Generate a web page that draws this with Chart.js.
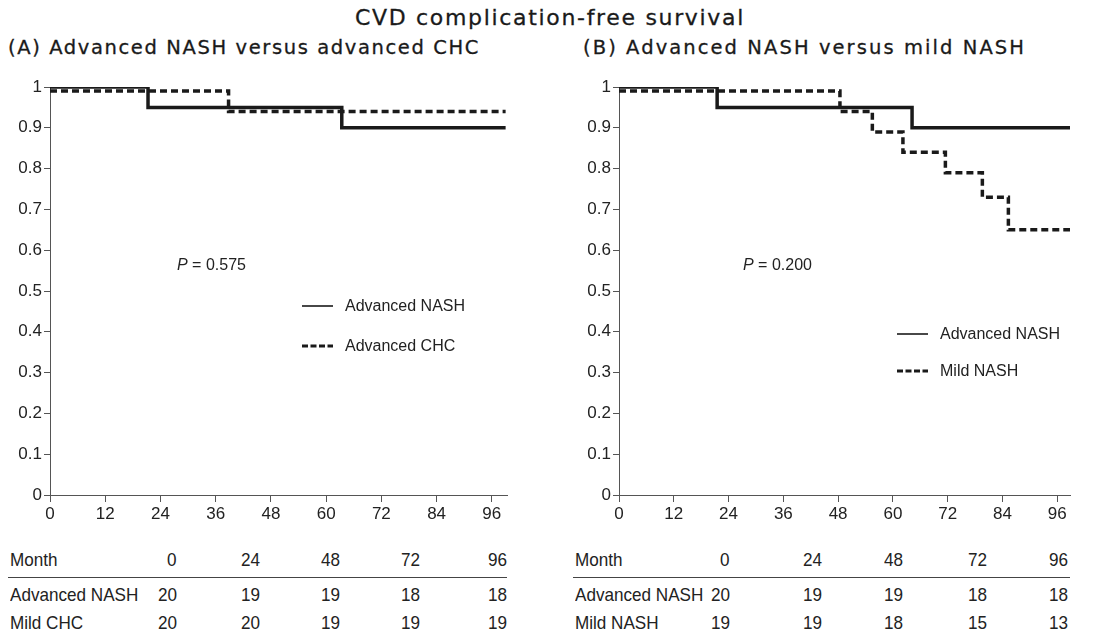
<!DOCTYPE html>
<html>
<head>
<meta charset="utf-8">
<script src="https://cdn.jsdelivr.net/npm/chart.js@4"></script>
<style>
  body { margin: 0; background: #fff; }
  #page { position: relative; width: 1098px; height: 636px; font-family: "Liberation Sans", Arial, sans-serif; color: #222; }
  .abs { position: absolute; white-space: nowrap; }
  .head { font-family: "DejaVu Sans", sans-serif; line-height: 24px; color: #1a1a1a; -webkit-text-stroke: 0.3px #1a1a1a; }
  .pval { font-size: 16px; }
  .cell { font-size: 19px; line-height: 20px; transform: scaleX(0.9); }
  .rule { height: 1px; background: #444; }
</style>
</head>
<body>
<div id="page">
  <div class="abs head" id="ttl">CVD complication-free survival</div>
  <div class="abs head" id="subA">(A) Advanced NASH versus advanced CHC</div>
  <div class="abs head" id="subB">(B) Advanced NASH versus mild NASH</div>
  <div class="abs" style="left:0;top:60px;width:512px;height:471px"><canvas id="chartA"></canvas></div>
  <div class="abs" style="left:569px;top:60px;width:506px;height:471px"><canvas id="chartB"></canvas></div>
  <div class="abs pval" style="left:177px;top:256px"><i>P</i> = 0.575</div>
  <div class="abs pval" style="left:743px;top:256px"><i>P</i> = 0.200</div>
</div>
<script>
// x ticks (months) and y ticks (survival)
var monthTicks = [0, 12, 24, 36, 48, 60, 72, 84, 96];
var survTicks = [0, 0.1, 0.2, 0.3, 0.4, 0.5, 0.6, 0.7, 0.8, 0.9, 1];

// (A) Advanced NASH vs advanced CHC
var nashA_x = [0, 21.3, 63.4, 99];
var nashA_y = [1, 0.95, 0.9, 0.9];
var chcA_x = [0, 38.8, 99];
var chcA_y = [0.99, 0.94, 0.94];

// (B) Advanced NASH vs mild NASH
var nashB_x = [0, 21.5, 64.2, 99];
var nashB_y = [1, 0.95, 0.9, 0.9];
var mildB_x = [0, 48.4, 55.5, 62.2, 71.5, 79.6, 85.3, 98.8];
var mildB_y = [0.99, 0.94, 0.89, 0.84, 0.79, 0.73, 0.65, 0.65];

// numbers at risk
var tableMonths = [0, 24, 48, 72, 96];
var riskNashA = [20, 19, 19, 18, 18];
var riskChcA = [20, 20, 19, 19, 19];
var riskNashB = [20, 19, 19, 18, 18];
var riskMildB = [19, 19, 18, 15, 13];

// heading at a given size, spaced out to the width it has in the figure
function placeHead(el, size, left, width, centerY) {
    el.style.fontSize = size + 'px';
    el.style.letterSpacing = '0px';
    var w = el.getBoundingClientRect().width;
    el.style.letterSpacing = ((width - w) / el.textContent.length) + 'px';
    el.style.left = left + 'px';
    el.style.top = (centerY - 12) + 'px';
}
placeHead(document.getElementById('ttl'), 22, 355, 390, 18);
placeHead(document.getElementById('subA'), 19.5, 8, 472, 48);
placeHead(document.getElementById('subB'), 19.5, 583, 443, 48);

function toPoints(xs, ys) {
    var pts = [];
    for (var i = 0; i < xs.length; i++) {
        pts.push({x: xs[i], y: ys[i]});
    }
    return pts;
}

// legend drawn inside the plot area
var innerLegend = {
    id: 'innerLegend',
    afterDatasetsDraw: function(chart, args, opts) {
        var ctx = chart.ctx;
        var x0 = chart.chartArea.left + opts.dx;
        ctx.save();
        ctx.font = '16px "Liberation Sans", Arial, sans-serif';
        ctx.fillStyle = '#222';
        ctx.textBaseline = 'middle';
        chart.data.datasets.forEach(function(ds, i) {
            var y = opts.rows[i];
            ctx.beginPath();
            ctx.strokeStyle = '#1a1a1a';
            if (ds.borderDash) {
                ctx.lineWidth = 3;
                ctx.setLineDash([6, 2.5]);
            } else {
                ctx.lineWidth = 1.6;
                ctx.setLineDash([]);
            }
            ctx.moveTo(x0, y);
            ctx.lineTo(x0 + 31, y);
            ctx.stroke();
            ctx.fillText(ds.label, x0 + 43, y + 1);
        });
        ctx.restore();
    }
};

function makeChart(id, sets, maxX, legendOpts) {
    var ctx = document.getElementById(id).getContext('2d');
    return new Chart(ctx, {
        type: 'line',
        data: {
            datasets: sets.map(function(s) {
                return {
                    label: s.label,
                    data: s.data,
                    borderColor: '#1a1a1a',
                    borderWidth: 3.5,
                    borderDash: s.dashed ? [7, 4] : undefined,
                    stepped: true,
                    pointRadius: 0,
                    fill: false
                };
            })
        },
        options: {
            responsive: true,
            maintainAspectRatio: false,
            animation: false,
            layout: { padding: { top: 27, right: 5, left: 0, bottom: 0 } },
            plugins: {
                legend: { display: false },
                tooltip: { enabled: false },
                innerLegend: legendOpts
            },
            scales: {
                x: {
                    type: 'linear',
                    min: 0,
                    max: maxX,
                    afterBuildTicks: function(scale) {
                        scale.ticks = monthTicks.map(function(v) { return {value: v}; });
                    },
                    afterFit: function(scale) { scale.height = 36; },
                    grid: { drawOnChartArea: false, tickLength: 7, color: '#555' },
                    border: { color: '#555', width: 1 },
                    ticks: { color: '#222', padding: 2, maxRotation: 0, font: { family: '"Liberation Sans", Arial, sans-serif', size: 17 } }
                },
                y: {
                    min: 0,
                    max: 1,
                    afterBuildTicks: function(scale) {
                        scale.ticks = survTicks.map(function(v) { return {value: v}; });
                    },
                    afterFit: function(scale) { scale.width = 50; },
                    grid: { drawOnChartArea: false, tickLength: 6, color: '#555' },
                    border: { color: '#555', width: 1 },
                    ticks: {
                        color: '#222', padding: 2,
                        font: { family: '"Liberation Sans", Arial, sans-serif', size: 17 },
                        callback: function(v) { return String(Math.round(v * 10) / 10); }
                    }
                }
            }
        },
        plugins: [innerLegend]
    });
}

makeChart('chartA', [
    {label: 'Advanced NASH', data: toPoints(nashA_x, nashA_y)},
    {label: 'Advanced CHC', data: toPoints(chcA_x, chcA_y), dashed: true}
], 99.3, {dx: 252, rows: [246, 286]});

makeChart('chartB', [
    {label: 'Advanced NASH', data: toPoints(nashB_x, nashB_y)},
    {label: 'Mild NASH', data: toPoints(mildB_x, mildB_y), dashed: true}
], 98.8, {dx: 278, rows: [274, 311]});

// at-risk tables
var page = document.getElementById('page');
function addText(txt, left, right, top) {
    var d = document.createElement('div');
    d.className = 'abs cell';
    d.textContent = txt;
    if (right !== null) {
        d.style.right = (1098 - right) + 'px';
        d.style.transformOrigin = 'right center';
    } else {
        d.style.left = left + 'px';
        d.style.transformOrigin = 'left center';
    }
    d.style.top = top + 'px';
    page.appendChild(d);
}
function addTable(x0, lineEnd, colRight, names, rows) {
    var rowTops = [550, 585, 613];
    addText('Month', x0, null, rowTops[0]);
    tableMonths.forEach(function(m, j) { addText(String(m), 0, colRight[j], rowTops[0]); });
    var rule = document.createElement('div');
    rule.className = 'abs rule';
    rule.style.left = (x0 - 2) + 'px';
    rule.style.width = (lineEnd - x0 + 2) + 'px';
    rule.style.top = '577px';
    page.appendChild(rule);
    rows.forEach(function(r, i) {
        addText(names[i], x0, null, rowTops[i + 1]);
        r.forEach(function(v, j) { addText(String(v), 0, colRight[j], rowTops[i + 1]); });
    });
}
addTable(10, 507, [177, 260, 340, 420, 507], ['Advanced NASH', 'Mild CHC'], [riskNashA, riskChcA]);
addTable(575, 1070, [730, 822, 903, 987, 1068], ['Advanced NASH', 'Mild NASH'], [riskNashB, riskMildB]);
</script>
</body>
</html>
